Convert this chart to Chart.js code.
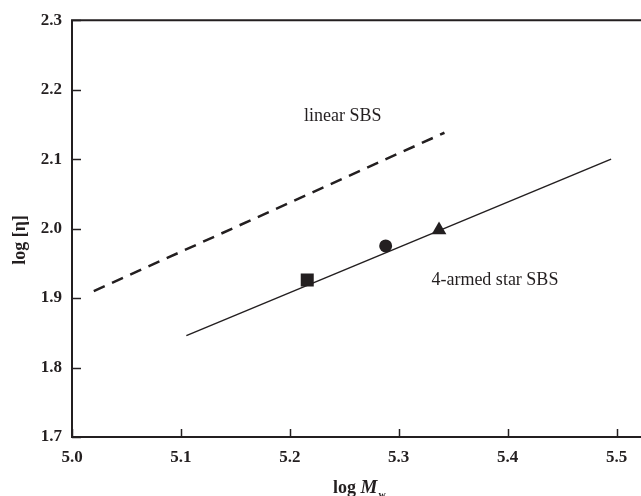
<!DOCTYPE html>
<html>
<head>
<meta charset="utf-8">
<script src="https://cdn.jsdelivr.net/npm/chart.js@4"></script>
<style>
  html, body { margin: 0; padding: 0; background: #fff; }
  #wrap { width: 641px; height: 496px; }
</style>
</head>
<body>
<div id="wrap"><canvas id="chart" width="641" height="496"></canvas></div>
<script>
// Fitted lines (end points)
const linearX = [5.02, 5.342];
const linearY = [1.910, 2.138];
const starX = [5.105, 5.495];
const starY = [1.846, 2.100];

// Measured samples
const squareX = [5.216];
const squareY = [1.926];
const circleX = [5.288];
const circleY = [1.975];
const triangleX = [5.337];
const triangleY = [1.998];

// Axis ticks
const xTicks = [5.0, 5.1, 5.2, 5.3, 5.4, 5.5];
const yTicks = [1.7, 1.8, 1.9, 2.0, 2.1, 2.2, 2.3];

const ink = '#231f20';
const serif = '"Liberation Serif", "Times New Roman", serif';

function toPoints(xs, ys) {
    return xs.map((x, i) => ({ x: x, y: ys[i] }));
}

// Draw the frame, inward ticks, annotations and axis titles by hand
const framePlugin = {
    id: 'frame',
    afterDraw(chart) {
        const ctx = chart.ctx;
        const a = chart.chartArea;
        const xs = chart.scales.x;
        const ys = chart.scales.y;
        const right = chart.width;
        ctx.save();
        ctx.strokeStyle = ink;
        ctx.lineWidth = 2;
        ctx.beginPath();
        ctx.moveTo(right, a.top);
        ctx.lineTo(a.left, a.top);
        ctx.lineTo(a.left, a.bottom);
        ctx.lineTo(right, a.bottom);
        ctx.stroke();

        ctx.lineWidth = 1.5;
        xTicks.forEach(v => {
            const px = Math.round(xs.getPixelForValue(v)) + 0.5;
            ctx.beginPath();
            ctx.moveTo(px, a.bottom);
            ctx.lineTo(px, a.bottom - 8);
            ctx.stroke();
        });
        yTicks.forEach(v => {
            const py = Math.round(ys.getPixelForValue(v)) + 0.5;
            ctx.beginPath();
            ctx.moveTo(a.left, py);
            ctx.lineTo(a.left + 9, py);
            ctx.stroke();
        });

        // curve labels
        ctx.fillStyle = ink;
        ctx.font = '18px ' + serif;
        ctx.textBaseline = 'middle';
        ctx.textAlign = 'left';
        ctx.fillText('linear SBS', xs.getPixelForValue(5.213), ys.getPixelForValue(2.162));
        ctx.fillText('4-armed star SBS', xs.getPixelForValue(5.330), ys.getPixelForValue(1.925));

        // y title
        ctx.font = 'bold 18px ' + serif;
        ctx.save();
        ctx.translate(20, 240);
        ctx.rotate(-Math.PI / 2);
        ctx.textAlign = 'center';
        ctx.fillText('log [\u03b7]', 0, 0);
        ctx.restore();

        // x title: log M_w
        ctx.textAlign = 'left';
        ctx.textBaseline = 'alphabetic';
        let tx = 333;
        const ty = 493;
        ctx.font = 'bold 18px ' + serif;
        ctx.fillText('log ', tx, ty);
        tx += ctx.measureText('log ').width;
        ctx.font = 'italic bold 19px ' + serif;
        ctx.fillText('M', tx, ty);
        tx += ctx.measureText('M').width;
        ctx.font = 'bold 10px ' + serif;
        ctx.fillText('w', tx + 1, ty + 5);
        ctx.restore();
    }
};

new Chart(document.getElementById('chart'), {
    type: 'scatter',
    data: {
        datasets: [
            {
                data: toPoints(linearX, linearY),
                showLine: true,
                borderColor: ink,
                borderWidth: 2.5,
                borderDash: [12, 8],
                pointRadius: 0
            },
            {
                data: toPoints(starX, starY),
                showLine: true,
                borderColor: ink,
                borderWidth: 1.5,
                pointRadius: 0
            },
            {
                data: toPoints(squareX, squareY),
                pointStyle: 'rect',
                pointRadius: 9.2,
                backgroundColor: ink,
                borderColor: ink,
                borderWidth: 0
            },
            {
                data: toPoints(circleX, circleY),
                pointStyle: 'circle',
                pointRadius: 6.5,
                backgroundColor: ink,
                borderColor: ink,
                borderWidth: 0
            },
            {
                data: toPoints(triangleX, triangleY),
                pointStyle: 'triangle',
                pointRadius: 8.5,
                backgroundColor: ink,
                borderColor: ink,
                borderWidth: 0
            }
        ]
    },
    options: {
        responsive: false,
        animation: false,
        layout: { padding: { top: 20, right: 0, left: 0, bottom: 0 } },
        plugins: {
            legend: { display: false },
            tooltip: { enabled: false }
        },
        scales: {
            x: {
                type: 'linear',
                min: 5.0,
                max: 5.514,
                afterFit: s => { s.height = 59; },
                afterBuildTicks: s => { s.ticks = xTicks.map(v => ({ value: v })); },
                border: { display: false },
                grid: { display: false, drawTicks: false },
                ticks: {
                    padding: 10,
                    color: ink,
                    font: { family: serif, size: 17, weight: 'bold' },
                    callback: v => v.toFixed(1)
                }
            },
            y: {
                type: 'linear',
                min: 1.7,
                max: 2.3,
                afterFit: s => { s.width = 72; },
                afterBuildTicks: s => { s.ticks = yTicks.map(v => ({ value: v })); },
                border: { display: false },
                grid: { display: false, drawTicks: false },
                ticks: {
                    padding: 10,
                    color: ink,
                    font: { family: serif, size: 17, weight: 'bold' },
                    callback: v => v.toFixed(1)
                }
            }
        }
    },
    plugins: [framePlugin]
});
</script>
</body>
</html>
